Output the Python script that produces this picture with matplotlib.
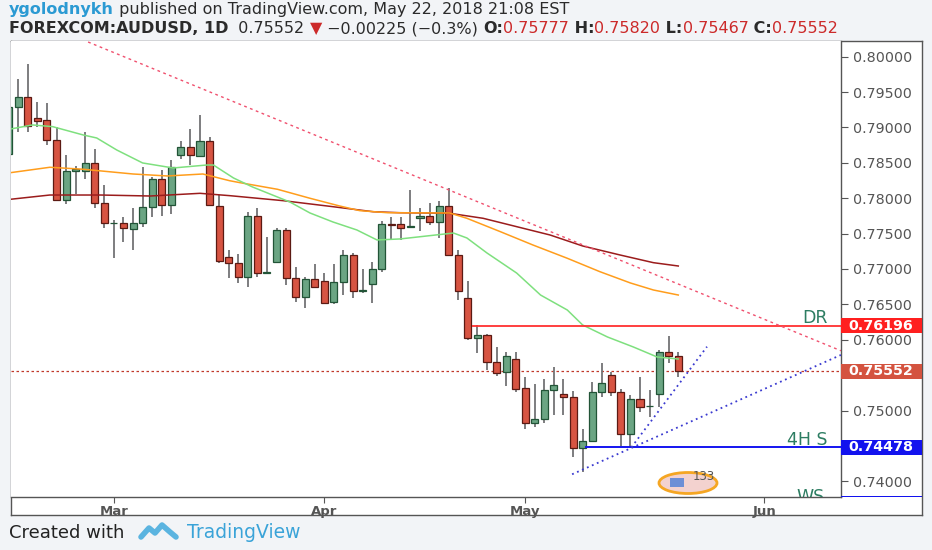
import numpy as np
import matplotlib.pyplot as plt
import matplotlib.transforms as mtransforms
from matplotlib.patches import Rectangle, Ellipse

W, H = 932, 550

# daily candles, FOREXCOM:AUDUSD (index 0 is the partly hidden bar at the left edge)
opens = [0.78625, 0.79293, 0.79434, 0.79129, 0.79105, 0.78823, 0.77975, 0.78389, 0.78389, 0.78493,
         0.77937, 0.77646, 0.77646, 0.77561, 0.77654, 0.77872, 0.78267, 0.77904, 0.78615, 0.78719,
         0.78596, 0.78808, 0.77890, 0.77174, 0.77080, 0.76891, 0.77749, 0.76948, 0.77103, 0.77551,
         0.76868, 0.76608, 0.76854, 0.76834, 0.76529, 0.76812, 0.77198, 0.76693, 0.76788, 0.76996,
         0.77636, 0.77629, 0.77593, 0.77720, 0.77749, 0.77664, 0.77886, 0.77198, 0.76586, 0.76029,
         0.76067, 0.75681, 0.75549, 0.75724, 0.75314, 0.74820, 0.74876, 0.75290, 0.75234, 0.75195,
         0.74466, 0.74574, 0.75262, 0.75502, 0.75262, 0.74668, 0.75167, 0.75057, 0.75234, 0.75823,
         0.75777]
highs = [0.79340, 0.79680, 0.79892, 0.79355, 0.79341, 0.79011, 0.78606, 0.78455, 0.78940, 0.78691,
         0.78187, 0.77692, 0.77730, 0.77857, 0.78437, 0.78304, 0.78399, 0.78540, 0.78813, 0.78978,
         0.79172, 0.78861, 0.78045, 0.77268, 0.77212, 0.77801, 0.77857, 0.77448, 0.77575, 0.77575,
         0.77024, 0.76891, 0.77070, 0.76948, 0.77070, 0.77268, 0.77230, 0.76996, 0.77103, 0.77682,
         0.77739, 0.77728, 0.78109, 0.77862, 0.77928, 0.77954, 0.78140, 0.77268, 0.76834, 0.76209,
         0.76080, 0.75902, 0.75831, 0.75820, 0.75470, 0.75375, 0.75441, 0.75611, 0.75441, 0.75280,
         0.74735, 0.75407, 0.75676, 0.75549, 0.75300, 0.75219, 0.75470, 0.75290, 0.75855, 0.76053,
         0.75820]
lows = [0.78560, 0.78940, 0.78940, 0.79011, 0.78752, 0.77960, 0.77918, 0.78060, 0.78267, 0.77857,
        0.77575, 0.77151, 0.77386, 0.77268, 0.77589, 0.77730, 0.77749, 0.77777, 0.78558, 0.78469,
        0.78587, 0.77890, 0.77085, 0.76877, 0.76798, 0.76741, 0.76891, 0.76939, 0.77090, 0.76774,
        0.76538, 0.76444, 0.76727, 0.76505, 0.76510, 0.76632, 0.76586, 0.76665, 0.76524, 0.76962,
        0.77410, 0.77403, 0.77575, 0.77530, 0.77622, 0.77442, 0.77198, 0.76562, 0.76000, 0.75809,
        0.75573, 0.75488, 0.75340, 0.75266, 0.74735, 0.74763, 0.74820, 0.74937, 0.74937, 0.74348,
        0.74136, 0.74560, 0.75195, 0.75205, 0.74499, 0.74489, 0.74983, 0.74904, 0.75046, 0.75667,
        0.75467]
closes = [0.79293, 0.79434, 0.79020, 0.79095, 0.78823, 0.77975, 0.78389, 0.78409, 0.78493, 0.77937,
          0.77646, 0.77652, 0.77575, 0.77654, 0.77872, 0.78267, 0.77904, 0.78445, 0.78719, 0.78606,
          0.78808, 0.77897, 0.77113, 0.77080, 0.76891, 0.77749, 0.76948, 0.76962, 0.77551, 0.76868,
          0.76608, 0.76854, 0.76741, 0.76524, 0.76812, 0.77198, 0.76693, 0.76700, 0.76996, 0.77636,
          0.77622, 0.77586, 0.77607, 0.77749, 0.77664, 0.77886, 0.77198, 0.76689, 0.76021, 0.76067,
          0.75681, 0.75535, 0.75770, 0.75304, 0.74820, 0.74876, 0.75290, 0.75356, 0.75187, 0.74466,
          0.74574, 0.75262, 0.75393, 0.75262, 0.74668, 0.75167, 0.75054, 0.75061, 0.75823, 0.75777,
          0.75552]
prev_close = 0.75777

month_pos = [11, 33, 54, 79]
month_names = ["Mar", "Apr", "May", "Jun"]

# moving averages (bar index, price)
ma_fast_x = [0.2, 2.5, 4.6, 7.8, 9.2, 11.3, 14.0, 17.2, 20.7, 21.4, 23.5, 25.5, 29.4, 31.5, 33.9,
             36.4, 38.5, 40.9, 43.7, 46.5, 47.9, 50.0, 53.1, 55.6, 58.4, 60.0, 62.6, 65.3, 67.8, 70.0]
ma_fast_v = [0.78978, 0.79035, 0.79011, 0.78893, 0.78851, 0.78681, 0.78498, 0.78427, 0.78469, 0.78469,
             0.78286, 0.78158, 0.77946, 0.77791, 0.77664, 0.77551, 0.77410, 0.77424, 0.77466, 0.77508,
             0.77438, 0.77226, 0.76943, 0.76632, 0.76420, 0.76209, 0.76039, 0.75898, 0.75756, 0.75728]
ma_mid_x = [0.2, 4.3, 7.8, 13.0, 16.6, 20.3, 23.1, 24.2, 28.1, 31.5, 34.6, 36.7, 39.6, 46.1, 47.9,
            51.4, 54.8, 58.4, 61.8, 65.0, 67.4, 70.0]
ma_mid_v = [0.78361, 0.78437, 0.78409, 0.78342, 0.78314, 0.78342, 0.78247, 0.78219, 0.78126, 0.77999,
            0.77890, 0.77824, 0.77795, 0.77791, 0.77716, 0.77527, 0.77339, 0.77151, 0.76962, 0.76802,
            0.76703, 0.76632]
ma_slow_x = [0.2, 4.3, 9.6, 14.8, 20.0, 23.1, 28.7, 33.9, 38.1, 40.9, 46.1, 49.6, 53.1, 56.6, 60.0,
             63.9, 67.4, 70.0]
ma_slow_v = [0.77985, 0.78045, 0.78045, 0.78031, 0.78069, 0.78036, 0.77965, 0.77880, 0.77809, 0.77795,
             0.77787, 0.77716, 0.77598, 0.77480, 0.77325, 0.77198, 0.77089, 0.77042]

# drawn levels and trend lines
dr_level, dr_start = 0.76196, 48.4
h4_level, h4_start = 0.74478, 60.25
ws_level = 0.73693
res_line_x, res_line_v = [8.3, 87.0], [0.80207, 0.75845]
sup_low_x, sup_low_v = [58.9, 87.0], [0.74099, 0.75785]
sup_steep_x, sup_steep_v = [65.1, 73.0], [0.74480, 0.75902]

up_col, up_edge = "#6ba583", "#225437"
dn_col, dn_edge = "#d75442", "#5b1a13"
bg = "#f2f4f7"


def fx(px):
    return px / W


def fy(py):
    return 1 - py / H


fig = plt.figure(figsize=(W / 100, H / 100), dpi=100, facecolor=bg)

# outer chart frame (plot + price scale + time scale)
frame = fig.add_axes([fx(10.7), fy(515), (921.7 - 10.7) / W, (515 - 41.3) / H])
frame.set_facecolor("white")
frame.set_xticks([])
frame.set_yticks([])
for s in frame.spines.values():
    s.set_color("#555555")
    s.set_linewidth(1.0)

ax = fig.add_axes([fx(10.7), fy(497), (840.7 - 10.7) / W, (497 - 41.3) / H])
ax.set_facecolor("white")
ax.set_xlim(0.21, 86.98)
ax.set_ylim(0.73778, 0.80217)
for k in ["left", "top"]:
    ax.spines[k].set_visible(False)
for k in ["right", "bottom"]:
    ax.spines[k].set_color("#555555")
    ax.spines[k].set_linewidth(1.0)

o = np.array(opens)
h = np.array(highs)
l = np.array(lows)
c = np.array(closes)
x = np.arange(len(o))
up = c >= o
bot = np.minimum(o, c)
ht = np.maximum(np.abs(c - o), 0.00004)

ax.vlines(x, l, h, color="#737375", lw=1.3, zorder=3)
ax.bar(x[up], ht[up], 0.74, bottom=bot[up], color=up_col, edgecolor=up_edge, lw=0.9, zorder=4)
ax.bar(x[~up], ht[~up], 0.74, bottom=bot[~up], color=dn_col, edgecolor=dn_edge, lw=0.9, zorder=4)

ax.plot(ma_slow_x, ma_slow_v, color="#9b1c1c", lw=1.1, zorder=5)
ax.plot(ma_mid_x, ma_mid_v, color="#ff9d1c", lw=1.1, zorder=5)
ax.plot(ma_fast_x, ma_fast_v, color="#7ee07e", lw=1.1, zorder=5)

ax.axhline(c[-1], color="#c0392b", lw=0.9, ls=(0, (2, 2)), zorder=2)
ax.hlines(dr_level, dr_start, 87, color="#ff3030", lw=1.3, zorder=6)
ax.hlines(h4_level, h4_start, 87, color="#1414f0", lw=1.4, zorder=6)
ax.plot(res_line_x, res_line_v, color="#f0506e", lw=1.0, ls=(0, (2, 2.5)), zorder=6)
ax.plot(sup_low_x, sup_low_v, color="#3a3ad0", lw=1.3, ls=(0, (1, 2)), zorder=6)
ax.plot(sup_steep_x, sup_steep_v, color="#3a3ad0", lw=1.3, ls=(0, (1, 2)), zorder=6)

lab_col = "#2d7d62"
ax.text(85.6, dr_level + 0.0004, "DR", color=lab_col, fontsize=12.5, ha="right", va="baseline", zorder=7)
ax.text(85.6, h4_level + 0.0004, "4H S", color=lab_col, fontsize=12.5, ha="right", va="baseline", zorder=7)
ax.text(85.3, ws_level + 0.0002, "WS", color=lab_col, fontsize=12.5, ha="right", va="baseline",
        zorder=7, clip_on=True)

# small emblem near the bottom
ax.add_patch(Ellipse(((688 - 10.7) / 830, (497 - 483) / 455.7), 58 / 830, 21 / 455.7,
                     transform=ax.transAxes, facecolor="#f3d2cf", edgecolor="#f5a623", lw=2, zorder=7))
ax.add_patch(Rectangle(((670 - 10.7) / 830, (497 - 487) / 455.7), 14 / 830, 9 / 455.7,
                       transform=ax.transAxes, facecolor="#6d8fd6", edgecolor="none", zorder=8))
ax.text((704 - 10.7) / 830, (497 - 477) / 455.7, "133", transform=ax.transAxes, fontsize=8.5,
        color="#555555", ha="center", va="center", zorder=8)

# price scale (labels hidden under the coloured boxes are left blank)
ax.yaxis.tick_right()
yt = np.arange(0.74, 0.80001, 0.005)
covered = [0.745, 0.755]
ax.set_yticks(yt)
ax.set_yticklabels(["" if any(abs(v - cv) < 1e-6 for cv in covered) else "{:.5f}".format(v) for v in yt])
ax.tick_params(axis="y", labelsize=10.3, labelcolor="#555555", color="#555555", length=5, pad=4)
ax.set_xticks(month_pos)
ax.set_xticklabels(month_names)
ax.tick_params(axis="x", labelsize=9.5, labelcolor="#555555", color="#555555", length=4, pad=1.5)
for t in ax.get_xticklabels():
    t.set_fontweight("bold")

# coloured price labels on the scale
bt = mtransforms.blended_transform_factory(ax.transAxes, ax.transData)
box_w = 81 / 830
box_h = 15 / 7077
scale_clip = mtransforms.Bbox.from_extents(840.7, H - 497, 921.7, H - 41.3)
for lev, col in [(dr_level, "#ff1f1f"), (c[-1], "#d4533f"), (h4_level, "#1212ee"), (ws_level, "#1212ee")]:
    r = Rectangle((1.0, lev - box_h / 2), box_w, box_h, transform=bt, facecolor=col,
                  edgecolor="none", zorder=10)
    fig.add_artist(r)
    r.set_clip_box(scale_clip)
    r.set_clip_on(True)
    if lev != ws_level:
        fig.text(1.0 + box_w / 2, lev, "{:.5f}".format(lev), transform=bt, color="white",
                 fontsize=10.3, fontweight="bold", ha="center", va="center", zorder=11)

# header
fig.canvas.draw()
rend = fig.canvas.get_renderer()


def write_line(parts, px, py, size):
    for s, col, wt in parts:
        t = fig.text(fx(px), fy(py), s, color=col, fontweight=wt, fontsize=size, va="center", ha="left")
        px += t.get_window_extent(rend).width
    return px


chg = c[-1] - prev_close
red = "#cc2a2a"
dark = "#2b2b2b"
write_line([("ygolodnykh", "#2b9ad3", "bold"),
            (" published on TradingView.com, May 22, 2018 21:08 EST", dark, "normal")], 9, 9.6, 11.5)
write_line([("FOREXCOM:AUDUSD, 1D", dark, "bold"),
            ("  {:.5f} ".format(c[-1]), dark, "normal"),
            ("\u25bc", red, "normal"),
            (" \u2212{:.5f} (\u2212{:.1f}%) ".format(-chg, -chg / prev_close * 100), dark, "normal"),
            ("O:", dark, "bold"), ("{:.5f}".format(o[-1]), red, "normal"),
            (" H:", dark, "bold"), ("{:.5f}".format(h[-1]), red, "normal"),
            (" L:", dark, "bold"), ("{:.5f}".format(l[-1]), red, "normal"),
            (" C:", dark, "bold"), ("{:.5f}".format(c[-1]), red, "normal")], 9, 28.6, 11.5)

# footer
fig.text(fx(9), fy(533), "Created with", fontsize=13, color="#222222", va="center")
fig.lines.append(plt.Line2D([fx(141), fx(149), fx(155), fx(162), fx(170), fx(176)],
                            [fy(537), fy(528), fy(533), fy(525), fy(532), fy(537)],
                            transform=fig.transFigure, color="#5bb4e0", lw=4, solid_joinstyle="round",
                            solid_capstyle="round"))
fig.text(fx(187), fy(533), "TradingView", fontsize=13.5, color="#3aa3d8", va="center")

fig.savefig("out.png", dpi=100, facecolor=bg)
